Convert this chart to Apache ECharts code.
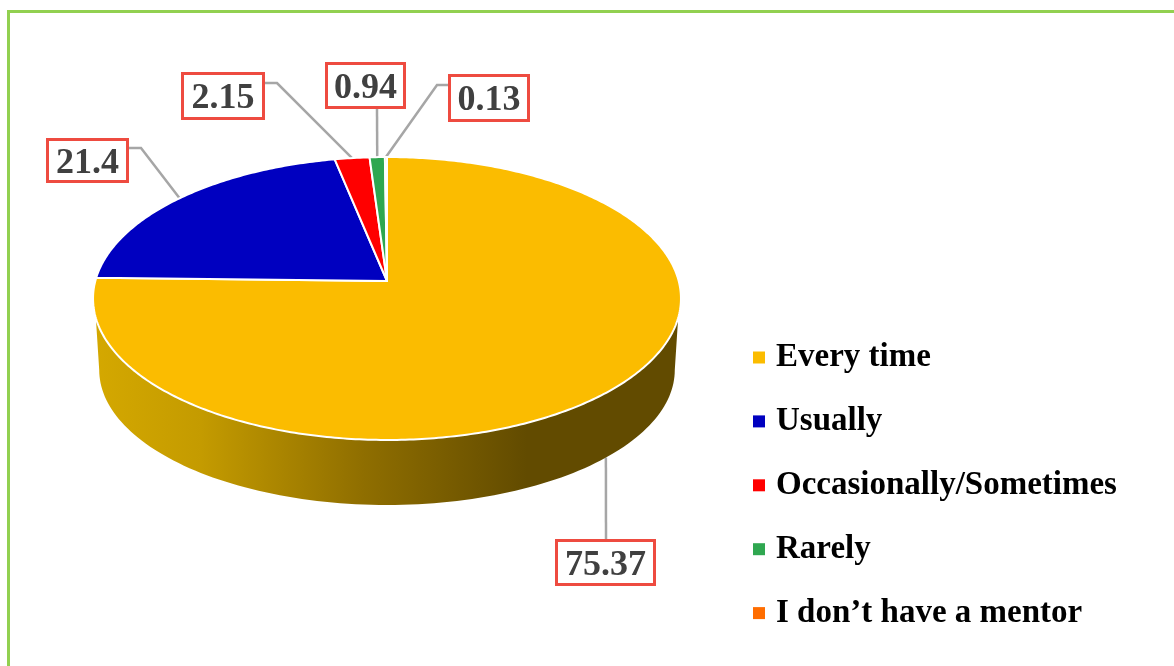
<!DOCTYPE html>
<html><head><meta charset="utf-8">
<style>html,body{margin:0;padding:0;background:#fff}#c{width:1174px;height:666px}</style>
<script src="https://cdn.jsdelivr.net/npm/echarts@6/dist/echarts.min.js"></script>
</head><body><div id="c"></div>
<script>
const categories = ['Every time','Usually','Occasionally/Sometimes','Rarely','I don\u2019t have a mentor'];
const values = [75.37,21.4,2.15,0.94,0.13];
const valueLabels = ['75.37','21.4','2.15','0.94','0.13'];
const sliceColors = ['#FBBC00','#0000C0','#FF0000','#2FA750','#FF6D00'];

// label box layout (left, top, width, height), leader start and elbow relative to the box
const boxes = [
  {x:555,y:539,w:101,h:47,side:'bottom',attach:[51,0]},
  {x:46,y:138,w:83,h:45,attach:[83,10],elbow:[95,10]},
  {x:181,y:72,w:84,h:48,attach:[84,11],elbow:[96,11]},
  {x:325,y:62,w:81,h:47,attach:[52,47]},
  {x:448,y:74,w:82,h:48,attach:[0,11],elbow:[-11,11]}
];
const FONT = '"Liberation Serif","DejaVu Serif",serif';
// tilted-disc projection of the pie
const P = {cx:387,cy:281,A:291.7,B:139.3,k:0.1237,midY:298.5,dy:71.5,sx:0.979,sy:0.954,sideTopY:318};
const total = values.reduce((a,b)=>a+b,0);
const proj = th => {
  const d = 1+P.k*Math.cos(th);
  return [P.cx+P.A*Math.sin(th)/d, P.cy-P.B*Math.cos(th)/d];
};
const projBottom = th => {
  const p = proj(th);
  return [P.cx+(p[0]-P.cx)*P.sx, P.midY+P.dy+(p[1]-P.midY)*P.sy];
};
const starts = values.reduce((acc,v,i)=>{acc.push(i?acc[i-1]+values[i-1]:0);return acc;},[]);
const ang = v => v/total*2*Math.PI;

function sideItem(){
  const h = P.sideTopY-P.cy;
  const t0 = Math.acos(-h/(P.B+h*P.k)), t1 = 2*Math.PI-t0;
  const b0 = Math.acos(-P.k), b1 = 2*Math.PI-b0;
  const pts=[], n=120;
  for(let i=0;i<=n;i++) pts.push(proj(t0+(t1-t0)*i/n));
  for(let i=n;i>=0;i--) pts.push(projBottom(b0+(b1-b0)*i/n));
  return {type:'polygon',shape:{points:pts},style:{
    fill:new echarts.graphic.LinearGradient(0,0,1,0,[
      {offset:0,color:'#D4A800'},{offset:0.18,color:'#C49B00'},{offset:0.46,color:'#8F6E00'},
      {offset:0.74,color:'#624B00'},{offset:1,color:'#624B00'}])}};
}
const series = [{
  type:'custom',name:'side',coordinateSystem:'none',data:[[0]],silent:true,z:2,
  renderItem:()=>sideItem()
}];
categories.forEach((name,i)=>{
  series.push({
    type:'custom',name,coordinateSystem:'none',silent:true,z:3,
    itemStyle:{color:sliceColors[i]},
    data:[[starts[i],values[i]]],
    renderItem:(params,api)=>{
      const s=api.value(0), v=api.value(1), a0=ang(s), a1=ang(s+v);
      const n=Math.max(2,Math.ceil((a1-a0)*80)), pts=[[P.cx,P.cy]];
      for(let j=0;j<=n;j++) pts.push(proj(a0+(a1-a0)*j/n));
      return {type:'polygon',shape:{points:pts},style:{fill:sliceColors[i],stroke:'#fff',lineWidth:2,lineJoin:'round'}};
    }
  });
});
const labelData = values.map((v,i)=>[starts[i],v,i]);
const anchorOf = (api,b) => {
  const mid=ang(api.value(0)+api.value(1)/2);
  return b.side==='bottom'?projBottom(mid):proj(mid);
};
series.push({
  type:'custom',name:'leaders',coordinateSystem:'none',silent:true,z:1,data:labelData,
  renderItem:(params,api)=>{
    const b=boxes[api.value(2)];
    const line=[[b.x+b.attach[0],b.y+b.attach[1]]];
    if(b.elbow) line.push([b.x+b.elbow[0],b.y+b.elbow[1]]);
    line.push(anchorOf(api,b));
    return {type:'polyline',shape:{points:line},style:{stroke:'#A6A6A6',lineWidth:2.5,fill:null}};
  }
});
series.push({
  type:'custom',name:'labels',coordinateSystem:'none',silent:true,z:5,data:labelData,
  renderItem:(params,api)=>{
    const i=api.value(2), b=boxes[i];
    return {type:'group',children:[
      {type:'rect',shape:{x:b.x+1.5,y:b.y+1.5,width:b.w-3,height:b.h-3},style:{fill:'#fff',stroke:'#EE4B40',lineWidth:3}},
      {type:'text',x:b.x+b.w/2,y:b.y+b.h/2+3,style:{text:valueLabels[i],fill:'#404040',
        font:'bold 36px '+FONT,align:'center',verticalAlign:'middle'}}
    ]};
  }
});
const chart = echarts.init(document.getElementById('c'),null,{renderer:'canvas'});
chart.setOption({
  animation:false,backgroundColor:'#fff',
  graphic:[{type:'rect',shape:{x:8.5,y:11.5,width:1300,height:800},style:{fill:null,stroke:'#92D050',lineWidth:3},silent:true,z:0}],
  legend:{data:categories,orient:'vertical',left:748,top:336,itemWidth:12,itemHeight:12,itemGap:30.9,
    icon:'rect',selectedMode:false,
    textStyle:{fontFamily:FONT,fontWeight:'bold',fontSize:33,color:'#000',padding:[0,0,0,6]}},
  series
});
</script></body></html>
